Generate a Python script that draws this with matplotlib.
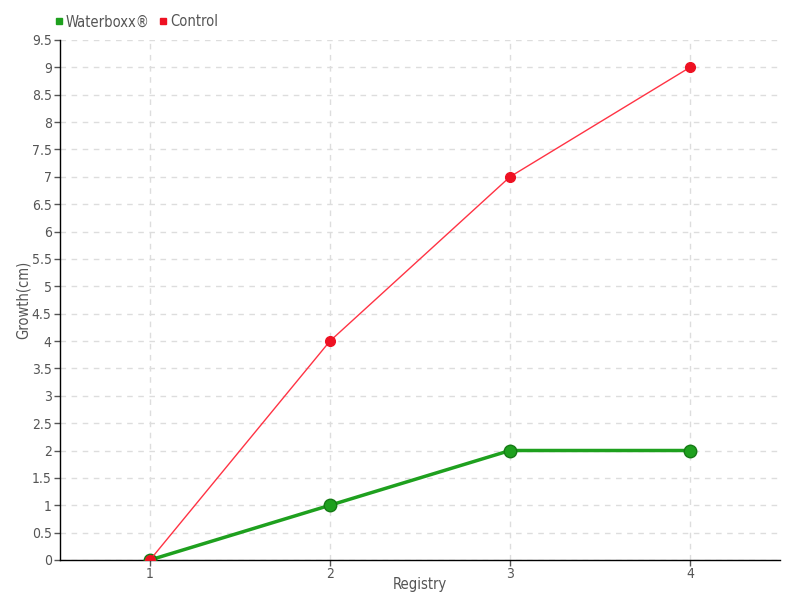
import matplotlib
matplotlib.use("Agg")
from matplotlib import pyplot as plt
from matplotlib.lines import Line2D

registry = [1, 2, 3, 4]
waterboxx = [0, 1, 2, 2]
control = [0, 4, 7, 9]
yticks = [0, 0.5, 1, 1.5, 2, 2.5, 3, 3.5, 4, 4.5, 5, 5.5, 6, 6.5, 7, 7.5, 8, 8.5, 9, 9.5]

plt.rcParams['font.family'] = ['DejaVu Sans']
plt.rcParams['font.stretch'] = 'condensed'
txt = '#555555'

fig = plt.figure(figsize=(8, 6), dpi=100)
ax = fig.add_axes([0.075, 0.0667, 0.9, 0.8667])

ax.plot(registry, waterboxx, color='#1ea01e', lw=2.5, marker='o', ms=9,
        mfc='#1ea01e', mec='#157a15', mew=1, zorder=3)
ax.plot(registry, control, color='#ff3344', lw=1, marker='o', ms=7,
        mfc='#ee1122', mec='#ee1122', zorder=4)

ax.set_xlim(0.5, 4.5)
ax.set_ylim(0, 9.5)
ax.set_xticks(registry)
ax.set_yticks(yticks)
ax.set_yticklabels(['%g' % v for v in yticks])
ax.grid(True, color='#dddddd', ls=(0, (4, 4)), lw=1)
ax.set_axisbelow(True)

for s in ['top', 'right']:
    ax.spines[s].set_visible(False)
for s in ['left', 'bottom']:
    ax.spines[s].set_color('black')
    ax.spines[s].set_linewidth(1)

ax.tick_params(axis='x', colors=txt, labelsize=10, length=4, width=1, direction='out', pad=1)
ax.tick_params(axis='y', colors=txt, labelsize=10, length=4, width=1, direction='out', pad=2)
for t in ax.get_yticklines():
    t.set_color('black')

ax.set_xlabel('Registry', color=txt, fontsize=10.5, labelpad=-3)
ax.set_ylabel('Growth(cm)', color=txt, fontsize=10.5)
ax.yaxis.set_label_coords(-0.041, 0.5)

handles = [Line2D([], [], ls='', marker='s', ms=5, color='#1ea01e'),
           Line2D([], [], ls='', marker='s', ms=5, color='#ee1122')]
leg = fig.legend(handles, ['Waterboxx®', 'Control'], loc='upper left',
                 bbox_to_anchor=(0.055, 0.993), ncol=2, frameon=False,
                 fontsize=10.5, handlelength=0.6, handletextpad=0.2,
                 columnspacing=0.6, borderpad=0.2)
for t in leg.get_texts():
    t.set_color(txt)

fig.savefig('out.png', dpi=100)
